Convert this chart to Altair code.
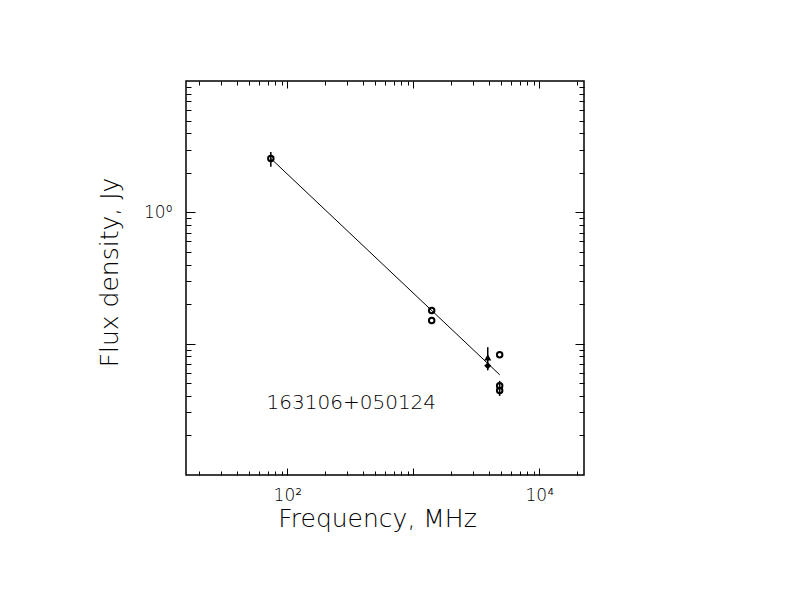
import altair as alt
import pandas as pd

# ---- data ----
open_freq = [74, 1400, 1400, 4850, 4850, 4850]
open_flux = [2.57, 0.179, 0.150, 0.0824, 0.0478, 0.0440]
tri_freq = [3900]
tri_flux = [0.0786]
dia_freq = [3900]
dia_flux = [0.068]
err_freq = [74, 3900, 4850]
err_lo = [2.22, 0.0626, 0.0400]
err_hi = [2.88, 0.0940, 0.0521]
fit_freq = [74, 4850]
fit_flux = [2.57, 0.058]
label_text = ["163106+050124"]
label_freq = [68.5]
label_flux = [0.0318]

x_major = [100, 1000, 10000]
x_minor = [20, 30, 40, 50, 60, 70, 80, 90,
           200, 300, 400, 500, 600, 700, 800, 900,
           2000, 3000, 4000, 5000, 6000, 7000, 8000, 9000, 20000]
y_major = [0.1, 1]
y_minor = [0.02, 0.03, 0.04, 0.05, 0.06, 0.07, 0.08, 0.09,
           0.2, 0.3, 0.4, 0.5, 0.6, 0.7, 0.8, 0.9,
           2, 3, 4, 5, 6, 7, 8, 9]
x_domain = [15.7, 22650]
y_domain = [0.01, 10]

W, H = 398, 394
FONT = "DejaVu Sans"
WEIGHT = 200

open_df = pd.DataFrame({"freq": open_freq, "flux": open_flux})
tri_df = pd.DataFrame({"freq": tri_freq, "flux": tri_flux})
dia_df = pd.DataFrame({"freq": dia_freq, "flux": dia_flux})
err_df = pd.DataFrame({"freq": err_freq, "lo": err_lo, "hi": err_hi})
fit_df = pd.DataFrame({"freq": fit_freq, "flux": fit_flux})
lab_df = pd.DataFrame({"freq": label_freq, "flux": label_flux, "t": label_text})

xs = alt.Scale(type="log", domain=x_domain, nice=False)
ys = alt.Scale(type="log", domain=y_domain, nice=False)

# main layer with labelled axes
main = alt.Chart(open_df).mark_point(
    filled=False, shape="circle", size=30, strokeWidth=2, color="black", opacity=1
).encode(
    x=alt.X("freq:Q", scale=xs, axis=alt.Axis(
        orient="bottom", values=[100, 10000],
        labelExpr="datum.value == 100 ? '10²' : '10⁴'",
        ticks=False, tickSize=0, domain=False, grid=False,
        labelPadding=12, labelFontSize=17, labelFlush=False, labelOverlap=False,
        title="Frequency, MHz", titleX=191, titleY=51,
        titleBaseline="alphabetic", titleAlign="center", titleFontSize=25)),
    y=alt.Y("flux:Q", scale=ys, axis=alt.Axis(
        orient="left", values=[1], labelExpr="'10⁰'",
        ticks=False, tickSize=0, domain=False, grid=False,
        labelPadding=14, labelFontSize=17, labelBaseline="middle",
        labelFlush=False, labelOverlap=False,
        title="Flux density, Jy", titleX=-69, titleY=191, titleAngle=270,
        titleBaseline="alphabetic", titleAlign="center", titleFontSize=25)),
)


def tick_layer(xorient, yorient, xvals, yvals, xsize, ysize):
    return alt.Chart(open_df).mark_point(opacity=0).encode(
        x=alt.X("freq:Q", scale=xs, axis=alt.Axis(
            orient=xorient, offset=-H, values=xvals, tickSize=xsize,
            labels=False, domain=False, grid=False, title=None,
            tickColor="black", tickWidth=1)),
        y=alt.Y("flux:Q", scale=ys, axis=alt.Axis(
            orient=yorient, offset=-W, values=yvals, tickSize=ysize,
            labels=False, domain=False, grid=False, title=None,
            tickColor="black", tickWidth=1)),
    )


t1 = tick_layer("top", "right", x_major, y_major, 7, 9)
t2 = tick_layer("top", "right", x_minor, y_minor, 4, 5)
t3 = tick_layer("bottom", "left", x_major, y_major, 7, 9)
t4 = tick_layer("bottom", "left", x_minor, y_minor, 4, 5)

fit = alt.Chart(fit_df).mark_line(color="black", strokeWidth=1).encode(
    x=alt.X("freq:Q", scale=xs, axis=None),
    y=alt.Y("flux:Q", scale=ys, axis=None),
)

errs = alt.Chart(err_df).mark_rule(color="black", strokeWidth=1.5).encode(
    x=alt.X("freq:Q", scale=xs, axis=None),
    y=alt.Y("lo:Q", scale=ys, axis=None),
    y2="hi:Q",
)

tri = alt.Chart(tri_df).mark_point(
    filled=True, shape="triangle-up", size=50, color="black", opacity=1
).encode(
    x=alt.X("freq:Q", scale=xs, axis=None),
    y=alt.Y("flux:Q", scale=ys, axis=None),
)

dia = alt.Chart(dia_df).mark_point(
    filled=True, shape="diamond", size=50, color="black", opacity=1
).encode(
    x=alt.X("freq:Q", scale=xs, axis=None),
    y=alt.Y("flux:Q", scale=ys, axis=None),
)

lab = alt.Chart(lab_df).mark_text(
    align="left", baseline="alphabetic", fontSize=20, font=FONT,
    fontWeight=WEIGHT, color="black"
).encode(
    x=alt.X("freq:Q", scale=xs, axis=None),
    y=alt.Y("flux:Q", scale=ys, axis=None),
    text="t:N",
)

chart = alt.layer(main, t1, t2, t3, t4, fit, errs, tri, dia, lab).resolve_axis(
    x="independent", y="independent"
).properties(
    width=W, height=H,
    padding={"left": 178, "top": 73, "right": 10, "bottom": 80},
    autosize=alt.AutoSizeParams(type="none"),
    background="white",
).configure_view(
    stroke="black", strokeWidth=1.5
).configure_axis(
    labelFont=FONT, titleFont=FONT, labelColor="black", titleColor="black",
    titleFontWeight=WEIGHT, labelFontWeight=WEIGHT
)

chart.save("out.html", embed_options={"renderer": "svg", "actions": False})
